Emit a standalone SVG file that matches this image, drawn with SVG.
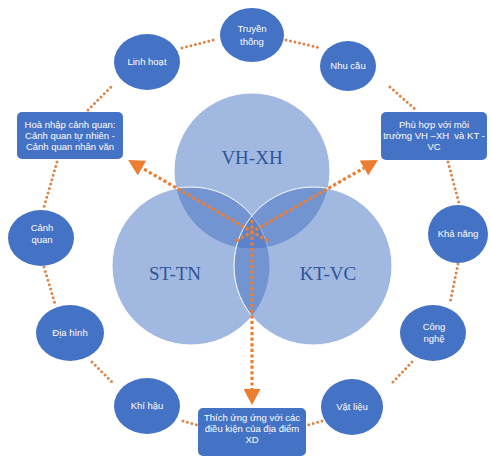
<svg xmlns="http://www.w3.org/2000/svg" width="491" height="459" viewBox="0 0 491 459">
<defs>
<style>
.vc{fill:#4472C4;fill-opacity:0.5;stroke:#ffffff;stroke-width:1}
.vl{font-family:"Liberation Serif","Times New Roman",serif;font-size:19px;fill:#2F5597;text-anchor:middle}
.nd{fill:#4472C4}
.t{font-family:"Liberation Sans",Arial,sans-serif;font-size:9.5px;fill:#ffffff;text-anchor:middle}
.ring{fill:none;stroke:#DD8447;stroke-width:3;stroke-linecap:round;stroke-dasharray:0 4.6}
.arr{fill:none;stroke:#ED7D31;stroke-width:3.2;stroke-dasharray:3.2 2.4;marker-end:url(#ah)}
</style>
<marker id="ah" markerUnits="userSpaceOnUse" markerWidth="17" markerHeight="17" viewBox="0 0 16 17" refX="0" refY="8.5" orient="auto">
<path d="M0,0 L16,8.5 L0,17 z" fill="#ED7D31"/>
</marker>
</defs>
<rect width="491" height="459" fill="#ffffff"/>
<g id="venn">
<circle class="vc" cx="252" cy="171" r="78"/>
<circle class="vc" cx="191" cy="266" r="79"/>
<circle class="vc" cx="313" cy="266" r="79"/>
<text class="vl" x="252" y="164">VH-XH</text>
<text class="vl" x="175" y="280">ST-TN</text>
<text class="vl" x="328" y="280">KT-VC</text>
</g>
<g id="connectors">
<line class="ring" x1="182" y1="48" x2="217" y2="39"/>
<line class="ring" x1="286" y1="40" x2="321" y2="48"/>
<line class="ring" x1="390" y1="87" x2="416" y2="110"/>
<line class="ring" x1="448" y1="162" x2="459" y2="203"/>
<line class="ring" x1="458" y1="264" x2="450" y2="303"/>
<line class="ring" x1="412" y1="362" x2="391" y2="384"/>
<line class="ring" x1="322" y1="421" x2="308" y2="425"/>
<line class="ring" x1="183" y1="421" x2="197" y2="425"/>
<line class="ring" x1="92" y1="362" x2="114" y2="384"/>
<line class="ring" x1="44" y1="267" x2="55" y2="304"/>
<line class="ring" x1="57" y1="162" x2="44" y2="207"/>
<line class="ring" x1="88" y1="110" x2="113" y2="85"/>
<path class="arr" d="M268,241 L142,168"/>
<path class="arr" d="M236,241 L364,168"/>
<path class="arr" d="M252,220 L252,389"/>
</g>
<g id="truyen-thong">
<ellipse class="nd" cx="252" cy="35" rx="32" ry="27"/>
<text class="t" x="252" y="32">Truyền</text>
<text class="t" x="252" y="45">thống</text>
</g>
<g id="nhu-cau">
<ellipse class="nd" cx="348" cy="66" rx="28" ry="25"/>
<text class="t" x="348" y="69">Nhu cầu</text>
</g>
<g id="linh-hoat">
<ellipse class="nd" cx="147" cy="62" rx="33" ry="28"/>
<text class="t" x="147" y="65">Linh hoạt</text>
</g>
<g id="hoa-nhap">
<rect class="nd" x="17" y="112" width="106" height="47" rx="5"/>
<text class="t" x="70" y="128">Hoà nhập cảnh quan:</text>
<text class="t" x="70" y="139">Cảnh quan tự nhiên -</text>
<text class="t" x="70" y="150">Cảnh quan nhân văn</text>
</g>
<g id="phu-hop">
<rect class="nd" x="381" y="112" width="106" height="48" rx="5"/>
<text class="t" x="434" y="128">Phù hợp với môi</text>
<text class="t" x="434" y="139" style="white-space:pre">trường VH –XH  và KT -</text>
<text class="t" x="434" y="150">VC</text>
</g>
<g id="canh-quan">
<ellipse class="nd" cx="41" cy="238" rx="33" ry="28"/>
<text class="t" x="42" y="231">Cảnh</text>
<text class="t" x="42" y="243">quan</text>
</g>
<g id="kha-nang">
<ellipse class="nd" cx="458" cy="234" rx="30" ry="29"/>
<text class="t" x="458" y="237">Khả năng</text>
</g>
<g id="dia-hinh">
<ellipse class="nd" cx="70" cy="333" rx="34" ry="28"/>
<text class="t" x="70" y="336">Địa hình</text>
</g>
<g id="cong-nghe">
<ellipse class="nd" cx="433" cy="333" rx="33" ry="28"/>
<text class="t" x="434" y="330">Công</text>
<text class="t" x="434" y="342">nghệ</text>
</g>
<g id="khi-hau">
<ellipse class="nd" cx="147" cy="406" rx="33" ry="28"/>
<text class="t" x="147" y="409">Khí hậu</text>
</g>
<g id="vat-lieu">
<ellipse class="nd" cx="352" cy="407" rx="31" ry="28"/>
<text class="t" x="352" y="410">Vật liệu</text>
</g>
<g id="thich-ung">
<rect class="nd" x="198" y="408" width="108" height="48" rx="5"/>
<text class="t" x="252" y="421">Thích ứng ứng với các</text>
<text class="t" x="252" y="432">điều kiện của địa điểm</text>
<text class="t" x="252" y="443">XD</text>
</g>
</svg>
